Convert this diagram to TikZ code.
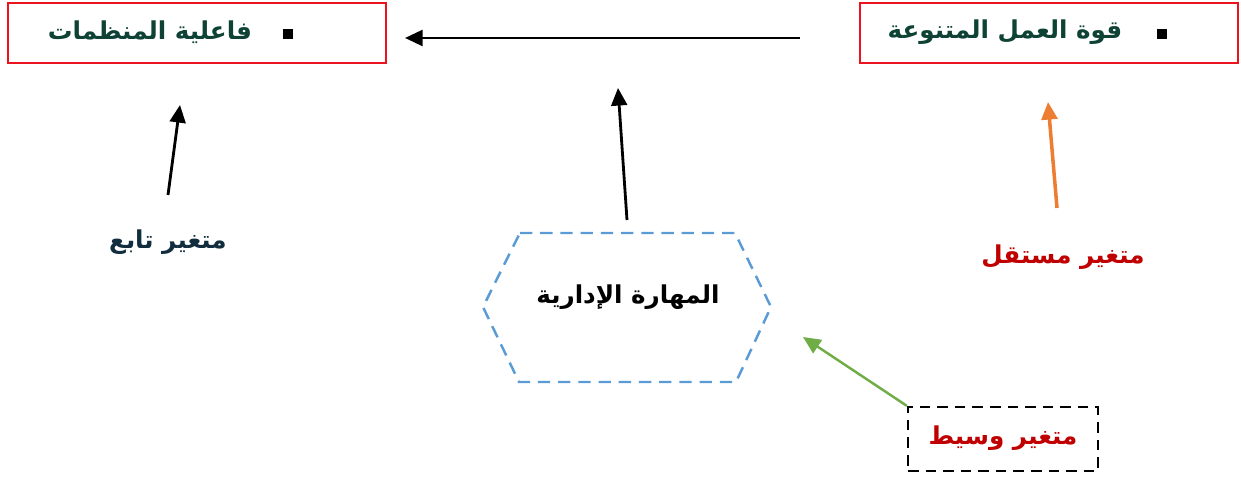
\documentclass[tikz,border=0pt]{standalone}
\usepackage{fontspec}
\usetikzlibrary{arrows.meta}
\TeXXeTstate=1
\newfontfamily\arabicfont[Script=Arabic]{DejaVu Sans}
\definecolor{boxRed}{RGB}{235,20,30}
\definecolor{darkTeal}{RGB}{14,66,52}
\definecolor{darkNavy}{RGB}{18,46,62}
\definecolor{labelRed}{RGB}{192,0,0}
\definecolor{arrowOrange}{RGB}{237,125,49}
\definecolor{arrowGreen}{RGB}{112,173,71}
\definecolor{hexBlue}{RGB}{91,155,213}
\newcommand{\ar}[1]{\arabicfont\bfseries\beginR #1\endR}

\begin{document}
\begin{tikzpicture}[
  varbox/.style={draw=boxRed, line width=1.2pt, minimum width=7.56cm, minimum height=1.2cm},
  boxtext/.style={font=\fontsize{14}{16}\selectfont, text=darkTeal},
  vlabel/.style={font=\fontsize{14}{16}\selectfont},
  bulletsq/.style={fill=black, minimum size=6pt, inner sep=0pt},
  flow/.style={line width=1.6pt, -{Triangle[length=10pt, width=9pt]}}
]
  \useasboundingbox (0,0) rectangle (24.82,9.54);
  % the two main variables
  \node[varbox] (org) at (3.94,8.88) {};
  \node[varbox] (work) at (20.98,8.88) {};
  \node[boxtext] (orgText) at (3.0,8.9) {\ar{فاعلية المنظمات}};
  \node[bulletsq] (orgDot) at (5.76,8.86) {};
  \node[boxtext] (workText) at (20.1,8.9) {\ar{قوة العمل المتنوعة}};
  \node[bulletsq] (workDot) at (23.24,8.86) {};
  % labels
  \node[vlabel, text=darkNavy] (dep) at (3.36,4.7) {\ar{متغير تابع}};
  \node[vlabel, text=labelRed] (ind) at (21.26,4.4) {\ar{متغير مستقل}};
  \node[draw, line width=1.3pt, dash pattern=on 6pt off 4pt, minimum width=3.8cm, minimum height=1.28cm] (med) at (20.06,0.76) {};
  \node[vlabel, text=labelRed] (medText) at (20.06,0.78) {\ar{متغير وسيط}};
  % mediator hexagon
  \draw[hexBlue, line width=1.4pt, dash pattern=on 7pt off 4.5pt]
    (10.4,4.88) -- (14.7,4.88) -- (15.42,3.4) -- (14.72,1.9) -- (10.38,1.9) -- (9.66,3.4) -- cycle;
  \node[vlabel] (skill) at (12.56,3.6) {\ar{المهارة الإدارية}};
  % arrow ends
  \coordinate (topStart) at (16.0,8.78);
  \coordinate (topEnd) at (8.1,8.78);
  \coordinate (depStart) at (3.36,5.64);
  \coordinate (depEnd) at (3.6,7.44);
  \coordinate (skillStart) at (12.54,5.14);
  \coordinate (skillEnd) at (12.36,7.78);
  \coordinate (indStart) at (21.14,5.38);
  \coordinate (indEnd) at (20.96,7.5);
  \coordinate (medEnd) at (16.06,2.8);
  \draw[flow] (topStart) -- (topEnd);
  \draw[flow] (depStart) -- (depEnd);
  \draw[flow] (skillStart) -- (skillEnd);
  \draw[flow, arrowOrange, line width=2pt] (indStart) -- (indEnd);
  \draw[flow, arrowGreen, line width=1.4pt] (med.north west) -- (medEnd);
\end{tikzpicture}
\end{document}
